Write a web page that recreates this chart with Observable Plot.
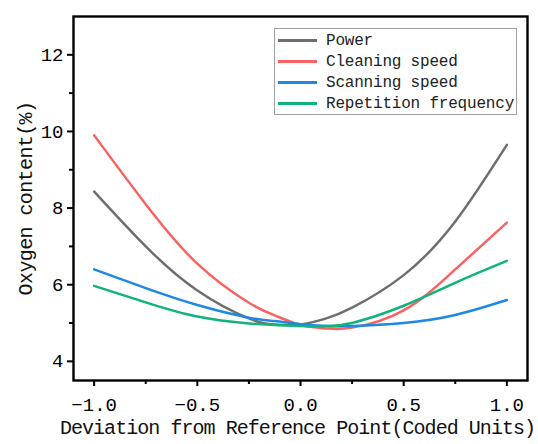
<!DOCTYPE html>
<html>
<head>
<meta charset="utf-8">
<script src="https://cdn.jsdelivr.net/npm/d3@7"></script>
<script src="https://cdn.jsdelivr.net/npm/@observablehq/plot@0.6"></script>
<style>
  html, body { margin: 0; padding: 0; background: #fff; }
  #wrap { position: relative; width: 538px; height: 444px; font-family: "Liberation Mono", monospace; }
  #legend { position: absolute; left: 274px; top: 28px; width: 243px; height: 87px; border: 1px solid #a0a0a0; background: #fff; box-sizing: border-box; }
  .row { position: absolute; left: 3px; height: 21px; display: flex; align-items: center; font-size: 16px; letter-spacing: -0.2px; color: #222; white-space: nowrap; }
  .sw { width: 39px; height: 0; border-top: 3px solid; margin-right: 9px; }
</style>
</head>
<body>
<div id="wrap"><div id="legend"></div></div>
<script>
const xs = [-1, -0.75, -0.5, -0.25, -0.125, 0, 0.125, 0.25, 0.5, 0.75, 1];
const power      = [8.43, 7.00, 5.85, 5.12, 4.96, 4.96, 5.12, 5.40, 6.25, 7.65, 9.65];
const cleaning   = [9.90, 8.10, 6.55, 5.53, 5.20, 4.95, 4.86, 4.88, 5.33, 6.40, 7.62];
const scanning   = [6.40, 5.91, 5.47, 5.14, 5.05, 4.97, 4.92, 4.92, 5.00, 5.21, 5.60];
const repetition = [5.97, 5.54, 5.17, 4.99, 4.95, 4.92, 4.92, 5.00, 5.45, 6.05, 6.62];
const seriesNames = ["Power", "Cleaning speed", "Scanning speed", "Repetition frequency"];
const seriesColors = ["#6e6e6e", "#fa6262", "#1e88e5", "#10b47a"];
const seriesValues = [power, cleaning, scanning, repetition];
const xMajor = [-1, -0.5, 0, 0.5, 1];
const xMinor = [-0.75, -0.25, 0.25, 0.75];
const yMajor = [4, 6, 8, 10, 12];
const yMinor = [5, 7, 9, 11];

const data = seriesNames.flatMap((name, i) => xs.map((x, j) => ({series: name, x, y: seriesValues[i][j]})));
const fmt = d3.format(".1f");

const chart = Plot.plot({
  width: 538,
  height: 444,
  marginLeft: 73,
  marginRight: 11,
  marginTop: 16,
  marginBottom: 64,
  style: {fontFamily: "'Liberation Mono', monospace", background: "#fff", color: "#000"},
  x: {domain: [-1.1, 1.1]},
  y: {domain: [3.5, 13]},
  color: {domain: seriesNames, range: seriesColors},
  marks: [
    Plot.axisX({ticks: xMajor, tickFormat: fmt, tickSize: 6, tickPadding: 11, fontSize: 19, strokeWidth: 2, label: null}),
    Plot.axisX({ticks: xMinor, tickSize: 4, strokeWidth: 2, text: null, label: null}),
    Plot.axisY({ticks: yMajor, tickFormat: d3.format("d"), tickSize: 6, tickPadding: 4, fontSize: 19, strokeWidth: 2, label: null}),
    Plot.axisY({ticks: yMinor, tickSize: 4, strokeWidth: 2, text: null, label: null}),
    Plot.line(data, {x: "x", y: "y", z: "series", stroke: "series", strokeWidth: 2.5, curve: "natural"}),
    Plot.frame({stroke: "#000", strokeWidth: 2.4}),
    Plot.text(["Deviation from Reference Point(Coded Units)"], {frameAnchor: "bottom", dy: 53, dx: -3, fontSize: 20, fill: "#111"}),
    Plot.text(["Oxygen content(%)"], {frameAnchor: "left", textAnchor: "middle", dx: -48, rotate: -90, fontSize: 20, fill: "#111"})
  ]
});
chart.querySelectorAll("text").forEach(t => {
  const s = t.textContent;
  if (s.startsWith("Deviation")) t.setAttribute("letter-spacing", "-0.95");
  if (s.startsWith("Oxygen")) t.setAttribute("letter-spacing", "-0.6");
});
document.getElementById("wrap").prepend(chart);

const legend = document.getElementById("legend");
seriesNames.forEach((name, i) => {
  const row = document.createElement("div");
  row.className = "row";
  row.style.top = (1 + i * 21) + "px";
  const sw = document.createElement("span");
  sw.className = "sw";
  sw.style.borderColor = seriesColors[i];
  const lab = document.createElement("span");
  lab.textContent = name;
  row.append(sw, lab);
  legend.append(row);
});
</script>
</body>
</html>
